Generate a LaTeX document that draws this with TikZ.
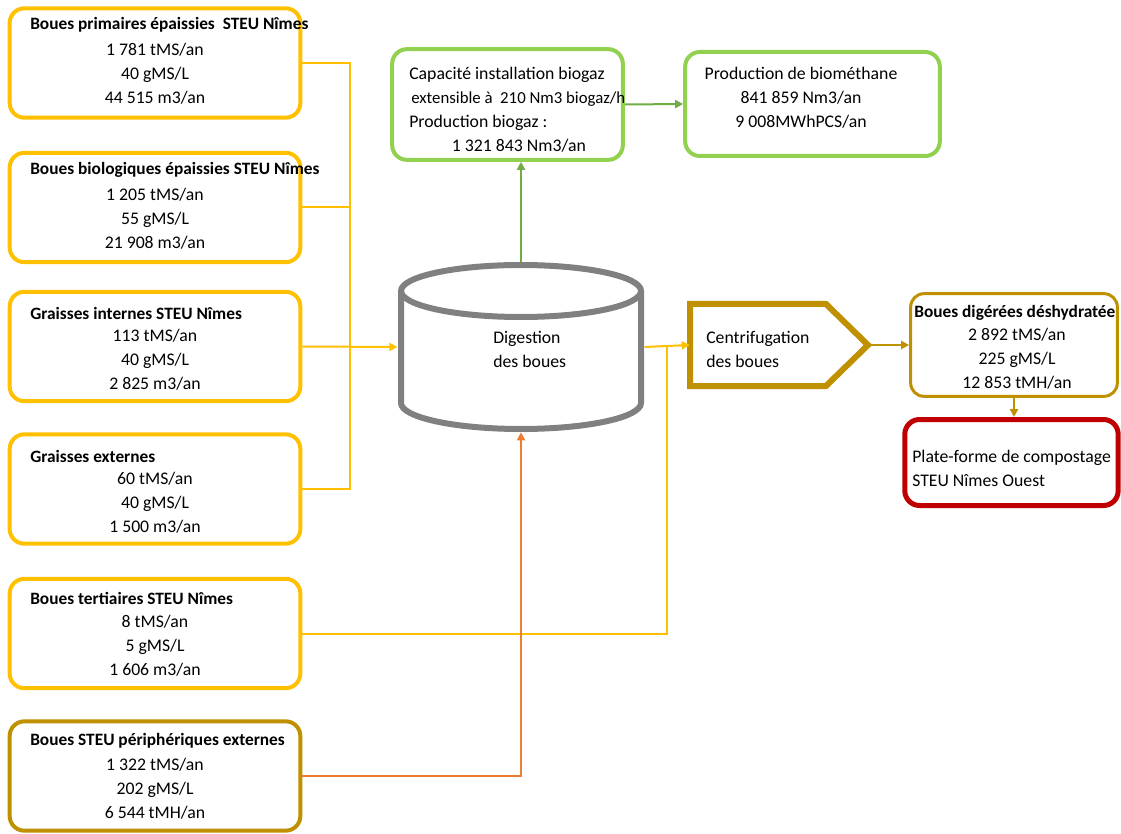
\documentclass[tikz,border=0pt]{standalone}
\usepackage{fontspec}
\setmainfont{Carlito}
\usepackage{tikz}
\usetikzlibrary{arrows.meta,positioning,calc}
\definecolor{amber}{RGB}{255,192,0}
\definecolor{darkgold}{RGB}{191,144,0}
\definecolor{leafgreen}{RGB}{146,208,80}
\definecolor{greenline}{RGB}{112,173,71}
\definecolor{burntorange}{RGB}{237,125,49}
\definecolor{deepred}{RGB}{192,0,0}
\definecolor{midgray}{RGB}{128,128,128}
\tikzset{
  src/.style={draw=amber,line width=3pt,rounded corners=11pt,minimum width=218pt,minimum height=82pt,inner sep=0pt},
  extsrc/.style={src,draw=darkgold},
  gas/.style={draw=leafgreen,line width=3pt,rounded corners=11pt,inner sep=0pt},
  ttl/.style={anchor=west,inner sep=0pt,font=\fontsize{13}{15}\selectfont\bfseries},
  vals/.style={align=center,inner sep=0pt,font=\fontsize{13.3}{18}\selectfont},
  txt/.style={align=left,inner sep=0pt,font=\fontsize{13.3}{18}\selectfont},
  feed/.style={draw=amber,line width=1.5pt},
  feedarr/.style={feed,-{Triangle[length=6pt,width=6pt]}},
  extarr/.style={draw=burntorange,line width=1.5pt,-{Triangle[length=6pt,width=6pt]}},
  gasarr/.style={draw=greenline,line width=1.5pt,-{Triangle[length=6pt,width=6pt]}},
  outarr/.style={draw=darkgold,line width=1.5pt,-{Triangle[length=6pt,width=6pt]}}
}
\begin{document}
\begin{tikzpicture}[x=0.75pt,y=-0.75pt]
\useasboundingbox (0,0) rectangle (1121,834);

\node[src] (b1) at (155,63) {};
\node[ttl] (t1) at (30,25) {Boues primaires épaissies~~STEU Nîmes};
\node[vals] (v1) at (155,73.5) {1 781 tMS/an\\40 gMS/L\\44 515 m3/an};

\node[src] (b2) at (155,207.5) {};
\node[ttl] (t2) at (30,170) {Boues biologiques épaissies STEU Nîmes};
\node[vals] (v2) at (155,218.5) {1 205 tMS/an\\55 gMS/L\\21 908 m3/an};

\node[src] (b3) at (155,346.5) {};
\node[ttl] (t3) at (30,313) {Graisses internes STEU Nîmes};
\node[vals] (v3) at (155,360) {113 tMS/an\\40 gMS/L\\2 825 m3/an};

\node[src] (b4) at (155,489) {};
\node[ttl] (t4) at (30,456) {Graisses externes};
\node[vals] (v4) at (155,502.5) {60 tMS/an\\40 gMS/L\\1 500 m3/an};

\node[src] (b5) at (155,633.5) {};
\node[ttl] (t5) at (30,598) {Boues tertiaires STEU Nîmes};
\node[vals] (v5) at (155,646) {8 tMS/an\\5 gMS/L\\1 606 m3/an};

\node[extsrc] (b6) at (155,776) {};
\node[ttl] (t6) at (30,741) {Boues STEU périphériques externes};
\node[vals] (v6) at (155,789) {1 322 tMS/an\\202 gMS/L\\6 544 tMH/an};

\node[gas,minimum width=173pt,minimum height=83pt] (gb1) at (507.5,104.5) {};
\node[txt,anchor=west] (g1) at (409,110) {Capacité installation biogaz\\\hspace*{1.5pt}{\fontsize{12.6}{18}\selectfont extensible à~~210 Nm3 biogaz/h}\\Production biogaz :\\\hspace*{32pt}1 321 843 Nm3/an};
\node[gas,minimum width=191pt,minimum height=78pt] (gb2) at (812.5,104) {};
\node[vals] (g2) at (801,98) {Production de biométhane\\841 859 Nm3/an\\9 008MWhPCS/an};

\node[minimum width=185pt,minimum height=127.5pt,inner sep=0pt] (dig) at (521,347) {};
\draw[midgray,line width=4.5pt] (521,291) ellipse [x radius=90pt,y radius=19.5pt];
\draw[midgray,line width=4.5pt] (401,291) -- (401,403)
  arc[start angle=180,end angle=360,x radius=90pt,y radius=19.5pt] -- (641,291);
\node[txt,anchor=west] (d1) at (493,349) {Digestion\\des boues};

\node[minimum width=133.5pt,minimum height=61.5pt,inner sep=0pt] (cent) at (779,345) {};
\draw[darkgold,line width=4.5pt,miter limit=4] (690,304) -- (826,304) -- (868,345) -- (826,386) -- (690,386) -- cycle;
\node[txt,anchor=west] (c1) at (706,349) {Centrifugation\\des boues};

\node[draw=darkgold,line width=2.25pt,rounded corners=10pt,minimum width=155pt,minimum height=77pt,inner sep=0pt] (dg) at (1014,345) {};
\node[ttl] (t7) at (914,313) {Boues digérées déshydratée};
\node[vals] (v7) at (1017,359) {2 892 tMS/an\\225 gMS/L\\12 853 tMH/an};

\node[draw=deepred,line width=3.75pt,rounded corners=11pt,minimum width=160pt,minimum height=64.5pt,inner sep=0pt] (pf) at (1011.5,462.5) {};
\node[txt,anchor=west] (p1) at (912,468) {Plate-forme de compostage\\STEU Nîmes Ouest};

\coordinate (bus) at (350,346.5);
\coordinate (ret) at (667,347);
\draw[feed] (b1.east) -| (bus);
\draw[feed] (b2.east) -| (bus);
\draw[feed] (b4.east) -| (bus);
\draw[feedarr] (b3.east) -- (dig.west);
\draw[feedarr] (dig.east) -- (cent.west);
\draw[feed] (b5.east) -| (ret);
\draw[extarr] (b6.east) -| (dig.south);
\draw[gasarr] (dig.north) -- (dig.north |- gb1.south);
\draw[gasarr] (gb1.east) -- (gb2.west);
\draw[outarr] (cent.east) -- (dg.west);
\draw[outarr] (dg.south) -- (dg.south |- pf.north);
\end{tikzpicture}
\end{document}
